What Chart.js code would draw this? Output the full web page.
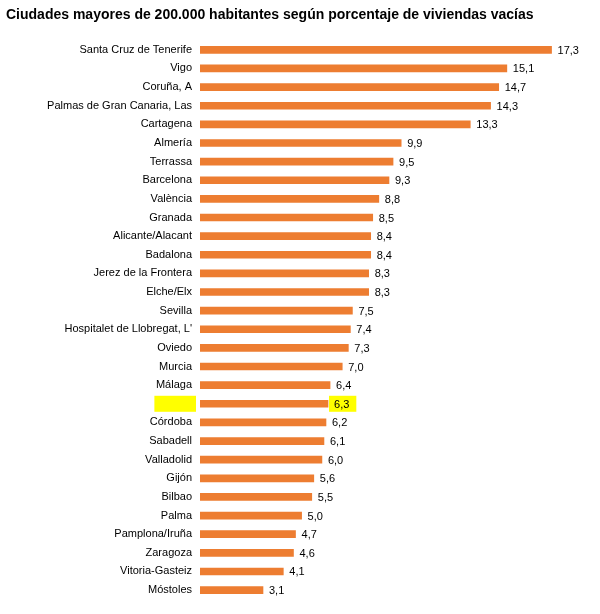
<!DOCTYPE html>
<html><head><meta charset="utf-8">
<script src="https://cdn.jsdelivr.net/npm/chart.js@4"></script>
<style>html,body{margin:0;padding:0;background:#fff}</style>
</head><body>
<div style="width:600px;height:614px"><canvas id="c"></canvas></div>
<script>
const categories = ["Santa Cruz de Tenerife","Vigo","Coruña, A","Palmas de Gran Canaria, Las","Cartagena","Almería","Terrassa","Barcelona","València","Granada","Alicante/Alacant","Badalona","Jerez de la Frontera","Elche/Elx","Sevilla","Hospitalet de Llobregat, L'","Oviedo","Murcia","Málaga","Madrid","Córdoba","Sabadell","Valladolid","Gijón","Bilbao","Palma","Pamplona/Iruña","Zaragoza","Vitoria-Gasteiz","Móstoles"];
const values = [17.3,15.1,14.7,14.3,13.3,9.9,9.5,9.3,8.8,8.5,8.4,8.4,8.3,8.3,7.5,7.4,7.3,7.0,6.4,6.3,6.2,6.1,6.0,5.6,5.5,5.0,4.7,4.6,4.1,3.1];
const highlight = "Madrid";
const title = "Ciudades mayores de 200.000 habitantes según porcentaje de viviendas vacías";
const FONT = "'Liberation Sans', Arial, sans-serif";

const plug = {
  id:'extras',
  beforeDatasetsDraw(chart){
    const ctx=chart.ctx, meta=chart.getDatasetMeta(0), ys=chart.scales.y;
    const i=categories.indexOf(highlight); if(i<0) return;
    const el=meta.data[i];
    ctx.save(); ctx.fillStyle='#FFFF00';
    ctx.font='11px '+FONT;
    const lw=ctx.measureText(categories[i]).width;
    ctx.fillRect(ys.right-8-lw-4, el.y-8, lw+8, 16);
    const t=values[i].toFixed(1).replace('.',',');
    const vw=ctx.measureText(t).width;
    ctx.fillRect(el.x+1, el.y-8, vw+12, 16);
    ctx.restore();
  },
  afterDatasetsDraw(chart){
    const ctx=chart.ctx, meta=chart.getDatasetMeta(0);
    ctx.save(); ctx.font='11px '+FONT; ctx.fillStyle='#000'; ctx.textBaseline='middle';
    meta.data.forEach((el,i)=>{ ctx.fillText(values[i].toFixed(1).replace('.',','), el.x+6, el.y+1); });
    ctx.font='bold 14px '+FONT; ctx.textBaseline='middle';
    ctx.fillText(title, 6, 15);
    ctx.restore();
  }
};

new Chart(document.getElementById('c'),{
  type:'bar',
  data:{labels:categories,datasets:[{data:values,backgroundColor:'#ED7D31',barThickness:7}]},
  options:{
    indexAxis:'y',responsive:true,maintainAspectRatio:false,animation:false,
    layout:{padding:{top:40.5,bottom:6.5,right:20,left:0}},
    plugins:{legend:{display:false},tooltip:{enabled:false}},
    scales:{
      x:{display:false,min:0,max:18.7},
      y:{grid:{display:false,drawTicks:false},border:{display:false},
         ticks:{color:'#000',font:{size:11,family:FONT},padding:8,autoSkip:false},
         afterFit(a){a.width=200;}}
    }
  },
  plugins:[plug]
});
</script>
</body></html>
